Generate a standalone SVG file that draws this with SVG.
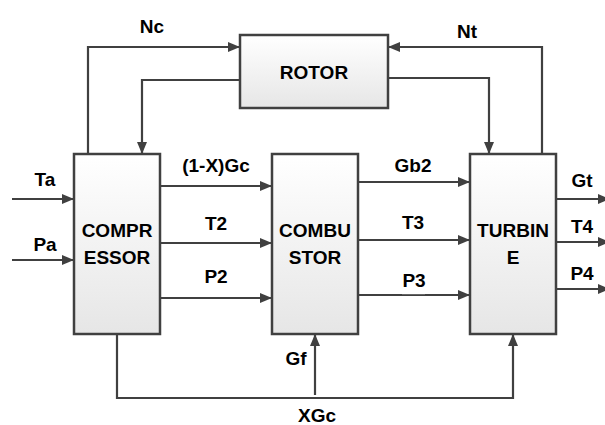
<svg xmlns="http://www.w3.org/2000/svg" width="605" height="425" viewBox="0 0 605 425">
<defs>
<linearGradient id="g" x1="0" y1="0" x2="0" y2="1">
<stop offset="0" stop-color="#ffffff"/>
<stop offset="1" stop-color="#e6e6e6"/>
</linearGradient>
<marker id="ah" markerWidth="12" markerHeight="10" refX="11" refY="5" orient="auto" markerUnits="userSpaceOnUse">
<path d="M0,0 L12,5 L0,10 Z" fill="#404040"/>
</marker>
<style>
.box{fill:url(#g);stroke:#404040;stroke-width:2.5}
.ln{fill:none;stroke:#404040;stroke-width:2.2}
.ar{marker-end:url(#ah)}
text{font-family:"Liberation Sans",Arial,sans-serif;font-weight:bold;font-size:19px;fill:#000;text-anchor:middle}
</style>
</defs>
<rect width="605" height="425" fill="#fff"/>
<g id="connectors">
<polyline class="ln ar" points="88,154 88,47 239,47"/>
<polyline class="ln ar" points="240,80 142,80 142,153"/>
<polyline class="ln ar" points="542,154 542,47 389,47"/>
<polyline class="ln ar" points="388,78 489,78 489,153"/>
<line class="ln ar" x1="12" y1="199" x2="73" y2="199"/>
<line class="ln ar" x1="12" y1="260" x2="73" y2="260"/>
<line class="ln ar" x1="160" y1="186" x2="271" y2="186"/>
<line class="ln ar" x1="160" y1="243" x2="271" y2="243"/>
<line class="ln ar" x1="160" y1="298" x2="271" y2="298"/>
<line class="ln ar" x1="358" y1="182" x2="469" y2="182"/>
<line class="ln ar" x1="358" y1="240" x2="469" y2="240"/>
<line class="ln ar" x1="358" y1="295" x2="469" y2="295"/>
<line class="ln ar" x1="556" y1="199" x2="609" y2="199"/>
<line class="ln ar" x1="556" y1="242" x2="609" y2="242"/>
<line class="ln ar" x1="556" y1="289" x2="609" y2="289"/>
<polyline class="ln ar" points="117,334 117,398 513,398 513,335"/>
<line class="ln ar" x1="315" y1="395" x2="315" y2="335"/>
<line x1="402" y1="293.6" x2="425" y2="293.6" stroke="#fff" stroke-width="1.2"/>
</g>
<g id="rotor">
<rect class="box" x="240" y="35" width="148" height="73"/>
<text x="314" y="79">ROTOR</text>
</g>
<g id="compressor">
<rect class="box" x="74" y="154" width="86" height="180"/>
<text x="117" y="237">COMPR</text>
<text x="117" y="264">ESSOR</text>
</g>
<g id="combustor">
<rect class="box" x="272" y="154" width="86" height="180"/>
<text x="315" y="237">COMBU</text>
<text x="315" y="264">STOR</text>
</g>
<g id="turbine">
<rect class="box" x="470" y="154" width="86" height="180"/>
<text x="513" y="237">TURBIN</text>
<text x="513" y="264">E</text>
</g>
<g id="labels">
<text x="152" y="33">Nc</text>
<text x="467" y="38">Nt</text>
<text x="45" y="186">Ta</text>
<text x="45" y="251">Pa</text>
<text x="216" y="172">(1-X)Gc</text>
<text x="216" y="230">T2</text>
<text x="216" y="283">P2</text>
<text x="413" y="172">Gb2</text>
<text x="413" y="229">T3</text>
<text x="414" y="287">P3</text>
<text x="582" y="187">Gt</text>
<text x="582" y="233">T4</text>
<text x="582" y="280">P4</text>
<text x="296" y="365">Gf</text>
<text x="317" y="422">XGc</text>
</g>
</svg>
